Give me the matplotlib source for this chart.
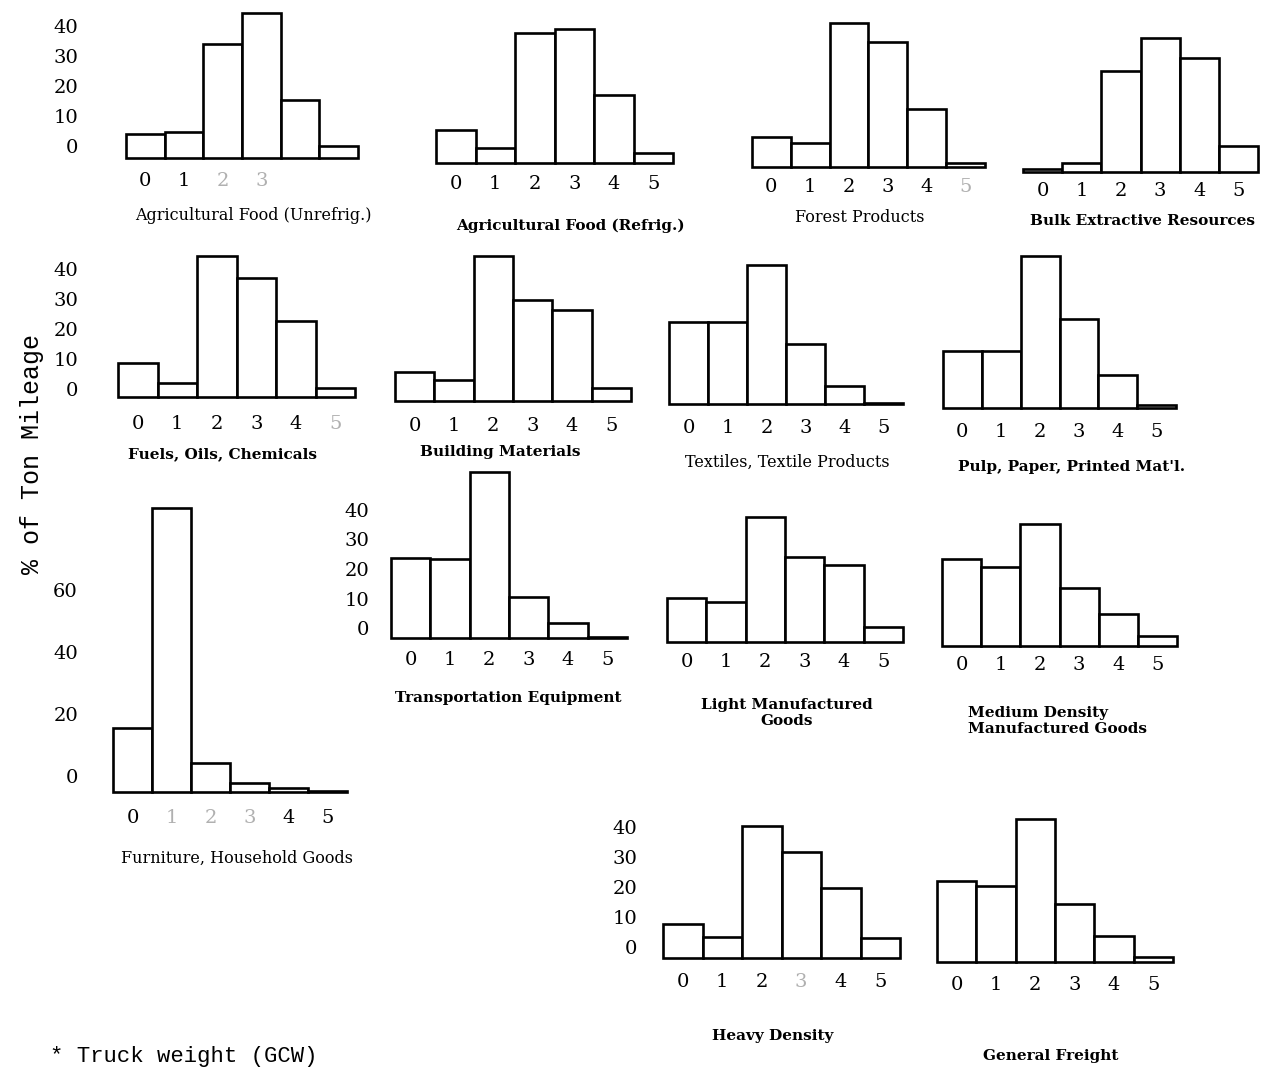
import matplotlib
matplotlib.use("Agg")
import matplotlib.pyplot as plt

# Truck weight classes on the x axis of every histogram
weight_classes = ["0", "1", "2", "3", "4", "5"]

# Percent of ton mileage by truck weight class, one list per commodity group
agri_unrefrig = [8.0, 8.7, 38.0, 48.3, 19.3, 4.0]
agri_refrig = [11.0, 5.0, 43.3, 44.7, 22.7, 3.3]
forest = [10.0, 8.0, 48.0, 41.7, 19.3, 1.3]
bulk = [1.0, 3.0, 33.7, 44.7, 38.0, 8.7]
fuels = [11.3, 4.7, 47.0, 39.7, 25.3, 3.0]
building = [9.7, 7.0, 48.3, 33.7, 30.3, 4.3]
textiles = [27.3, 27.3, 46.3, 20.0, 6.0, 0.4]
pulp = [19.0, 19.0, 50.7, 29.7, 11.0, 1.0]
furniture = [20.6, 91.6, 9.4, 2.9, 1.3, 0.3]
transport = [27.1, 26.8, 56.3, 13.9, 5.1, 0.3]
light_mfg = [14.7, 13.3, 41.7, 28.3, 25.7, 5.0]
medium_mfg = [29.0, 26.3, 40.7, 19.3, 10.7, 3.3]
heavy = [11.3, 7.0, 44.0, 35.3, 23.3, 6.7]
general = [27.0, 25.3, 47.7, 19.3, 8.7, 1.7]

titles = [
    "Agricultural Food (Unrefrig.)", "Agricultural Food (Refrig.)",
    "Forest Products", "Bulk Extractive Resources",
    "Fuels, Oils, Chemicals", "Building Materials",
    "Textiles, Textile Products", "Pulp, Paper, Printed Mat'l.",
    "Furniture, Household Goods", "Transportation Equipment",
    "Light Manufactured\nGoods", "Medium Density\nManufactured Goods",
    "Heavy Density", "General Freight",
]
series = [agri_unrefrig, agri_refrig, forest, bulk, fuels, building, textiles,
          pulp, furniture, transport, light_mfg, medium_mfg, heavy, general]

yticks_small = [0, 10, 20, 30, 40]
yticks_large = [0, 20, 40, 60]

W, H = 1264, 1068
fig = plt.figure(figsize=(W / 100, H / 100), dpi=100)
fig.patch.set_facecolor("white")

SERIF = "DejaVu Serif"
MONO = "Liberation Mono"


def fx(px):
    return px / W


def fy(py):
    return 1 - py / H


# layout of each panel in pixels:
# left, right, baseline, px per unit, xlabel drop, title (x, y, ha, bold),
# y ticks, gap to y labels, y label lift, faint x labels, hidden x labels
layout = [
    dict(l=126, r=358, b=158, s=3.0, dx=23, t=(253, 216, "center", False),
         yt=yticks_small, gap=48, lift=10, faint=[2, 3], hide=[4, 5]),
    dict(l=436, r=673, b=163, s=3.0, dx=21, t=(570, 226, "center", True)),
    dict(l=752, r=985, b=167, s=3.0, dx=20, t=(860, 218, "center", False),
         faint=[5]),
    dict(l=1023, r=1258, b=172, s=3.0, dx=19, t=(1143, 221, "center", True)),
    dict(l=118, r=355, b=397, s=3.0, dx=27, t=(223, 454, "center", True),
         yt=yticks_small, gap=40, lift=6, faint=[5]),
    dict(l=395, r=631, b=401, s=3.0, dx=25, t=(500, 452, "center", True)),
    dict(l=669, r=903, b=404, s=3.0, dx=24, t=(787, 462, "center", False)),
    dict(l=943, r=1176, b=408, s=3.0, dx=24, t=(1072, 467, "center", True)),
    dict(l=113, r=347, b=792, s=3.1, dx=26, t=(237, 858, "center", False),
         yt=yticks_large, gap=35, lift=14, faint=[1, 2, 3]),
    dict(l=391, r=627, b=638, s=2.95, dx=22, t=(508, 698, "center", True),
         yt=yticks_small, gap=22, lift=8),
    dict(l=667, r=903, b=642, s=3.0, dx=20, t=(787, 713, "center", True)),
    dict(l=942, r=1177, b=646, s=3.0, dx=19, t=(968, 721, "left", True)),
    dict(l=663, r=900, b=958, s=3.0, dx=24, t=(773, 1036, "center", True),
         yt=yticks_small, gap=26, lift=9, faint=[3]),
    dict(l=937, r=1173, b=962, s=3.0, dx=23, t=(1051, 1056, "center", True)),
]

AX_H = 320  # pixel height reserved above each baseline

for vals, title, g in zip(series, titles, layout):
    ax = fig.add_axes([fx(g["l"]), fy(g["b"]), fx(g["r"] - g["l"]), AX_H / H])
    ax.set_xlim(-0.5, 5.5)
    ax.set_ylim(0, AX_H / g["s"])
    ax.axis("off")
    ax.bar(range(len(vals)), vals, width=1.0, bottom=0, facecolor="white",
           edgecolor="black", linewidth=1.9, clip_on=False,
           joinstyle="miter")

    faint = g.get("faint", [])
    hide = g.get("hide", [])
    for i, lab in enumerate(weight_classes):
        if i in hide:
            continue
        ax.annotate(lab, xy=(i, 0), xycoords="data",
                    xytext=(0, -g["dx"]), textcoords="offset pixels",
                    ha="center", va="center", fontsize=14, family=SERIF,
                    color="#b0b0b0" if i in faint else "black")

    for v in g.get("yt", []):
        ax.annotate(str(v), xy=(0, v), xycoords=ax.get_yaxis_transform(),
                    xytext=(-g["gap"], g["lift"]), textcoords="offset pixels",
                    ha="right", va="center", fontsize=14, family=SERIF)

    tx, ty, ha, bold = g["t"]
    fig.text(fx(tx), fy(ty), title, ha=ha, va="center",
             fontsize=11 if bold else 11.5,
             family=SERIF, fontweight="bold" if bold else "normal",
             linespacing=1.25, multialignment=ha)

# shared y axis title
fig.text(fx(32), fy(454), "% of Ton Mileage", rotation=90, ha="center",
         va="center", fontsize=18, family=MONO)

# footnote at the foot of the page
fig.text(fx(50), fy(1062), "* Truck weight (GCW)", ha="left",
         va="baseline", fontsize=16, family=MONO)

fig.savefig("out.png", dpi=100, facecolor="white")
